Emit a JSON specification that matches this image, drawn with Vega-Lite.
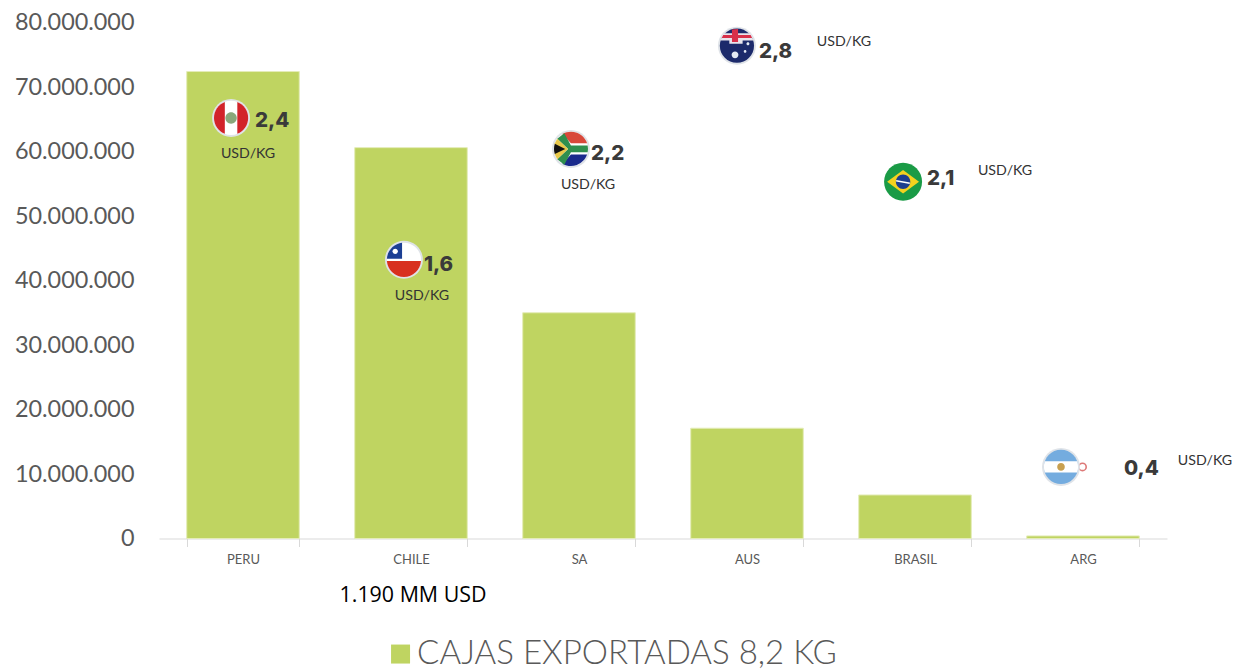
{"$schema":"https://vega.github.io/schema/vega-lite/v6.json","width":1008,"height":516,"autosize":"none","padding":{"left":159,"top":22.5,"right":71,"bottom":132.5},"background":"white","config":{"view":{"stroke":null}},
"datasets":{
"bars":[{"pais":"PERU","cajas":72400000,"serie":"CAJAS EXPORTADAS 8,2 KG"},{"pais":"CHILE","cajas":60600000,"serie":"CAJAS EXPORTADAS 8,2 KG"},{"pais":"SA","cajas":35000000,"serie":"CAJAS EXPORTADAS 8,2 KG"},{"pais":"AUS","cajas":17100000,"serie":"CAJAS EXPORTADAS 8,2 KG"},{"pais":"BRASIL","cajas":6750000,"serie":"CAJAS EXPORTADAS 8,2 KG"},{"pais":"ARG","cajas":400000,"serie":"CAJAS EXPORTADAS 8,2 KG"}],
"precios":[{"pais":"PERU","precio":"2,4","pos":0.571,"nivel":64900000},{"pais":"CHILE","precio":"1,6","pos":1.577,"nivel":42600000},{"pais":"SA","precio":"2,2","pos":2.571,"nivel":59800000},{"pais":"AUS","precio":"2,8","pos":3.571,"nivel":75600000},{"pais":"BRASIL","precio":"2,1","pos":4.571,"nivel":55900000},{"pais":"ARG","precio":"0,4","pos":5.744,"nivel":10900000}],
"unidades":[{"t":"USD/KG","pos":0.53,"nivel":59800000},{"t":"USD/KG","pos":1.565,"nivel":37800000},{"t":"USD/KG","pos":2.554,"nivel":55000000},{"t":"USD/KG","pos":4.077,"nivel":77100000},{"t":"USD/KG","pos":5.036,"nivel":57100000},{"t":"USD/KG","pos":6.226,"nivel":12200000}],
"nota":[{"t":"1.190 MM USD","pos":1.512,"nivel":-8900000}],
"aro":[{"pos":5.497,"nivel":11100000}],
"banderas":[
{"pieza":"aro","pos":0.429,"nivel":65200000},{"pieza":"blanco","pos":0.429,"nivel":65200000},{"pieza":"pe_izq","pos":0.429,"nivel":65200000},{"pieza":"pe_der","pos":0.429,"nivel":65200000},{"pieza":"pe_escudo","pos":0.429,"nivel":65200000},
{"pieza":"aro","pos":1.458,"nivel":43200000},{"pieza":"blanco","pos":1.458,"nivel":43200000},{"pieza":"cl_rojo","pos":1.458,"nivel":43200000},{"pieza":"cl_azul","pos":1.458,"nivel":43200000},{"pieza":"cl_estrella","pos":1.458,"nivel":43200000},
{"pieza":"aro","pos":2.452,"nivel":60400000},{"pieza":"blanco","pos":2.452,"nivel":60400000},{"pieza":"sa_rojo","pos":2.452,"nivel":60400000},{"pieza":"sa_azul","pos":2.452,"nivel":60400000},{"pieza":"sa_verde","pos":2.452,"nivel":60400000},{"pieza":"sa_oro","pos":2.452,"nivel":60400000},{"pieza":"sa_negro","pos":2.452,"nivel":60400000},
{"pieza":"aro","pos":3.44,"nivel":76400000},{"pieza":"au_azul","pos":3.44,"nivel":76400000},{"pieza":"au_blanco","pos":3.44,"nivel":76400000},{"pieza":"au_rojo","pos":3.44,"nivel":76400000},{"pieza":"au_estrellas","pos":3.44,"nivel":76400000},
{"pieza":"br_verde","pos":4.429,"nivel":55300000},{"pieza":"br_amarillo","pos":4.429,"nivel":55300000},{"pieza":"br_azul","pos":4.429,"nivel":55300000},{"pieza":"br_banda","pos":4.429,"nivel":55300000},
{"pieza":"aro","pos":5.369,"nivel":11100000},{"pieza":"ar_azul","pos":5.369,"nivel":11100000},{"pieza":"ar_blanco","pos":5.369,"nivel":11100000},{"pieza":"ar_sol","pos":5.369,"nivel":11100000}
]},
"resolve":{"scale":{"x":"independent"}},
"layer":[
{"data":{"name":"bars"},"mark":{"type":"bar","stroke":"#e4ecb8","strokeWidth":1},
"encoding":{"x":{"field":"pais","type":"nominal","sort":null,"scale":{"paddingInner":0.33,"paddingOuter":0.165},"title":null,"axis":{"labelAngle":0,"labelFont":"Lato","labelFontSize":13,"labelColor":"#595959","labelPadding":7,"tickBand":"extent","tickSize":8,"tickColor":"#d9d9d9","domainColor":"#d9d9d9","grid":false}},
"y":{"field":"cajas","type":"quantitative","scale":{"domain":[0,80000000]},"title":null,"axis":{"values":[0,10000000,20000000,30000000,40000000,50000000,60000000,70000000,80000000],"format":",d","labelExpr":"replace(datum.label, /,/g, '.')","labelFont":"Lato","labelFontSize":23.4,"labelColor":"#595959","labelPadding":25,"domain":false,"ticks":false,"grid":false}},
"color":{"field":"serie","type":"nominal","scale":{"range":["#bfd461"]},"legend":{"title":null,"orient":"none","legendX":225,"legendY":615,"symbolType":"square","symbolSize":361,"symbolStrokeWidth":0,"symbolOpacity":1,"labelFont":"Lato","labelFontSize":33.1,"labelFontWeight":300,"labelColor":"#595959","labelLimit":500,"labelOffset":0}}}},
{"data":{"name":"aro"},"mark":{"type":"point","filled":false,"stroke":"#d0413f","strokeWidth":1.6,"size":55},"encoding":{"x":{"field":"pos","type":"quantitative","scale":{"domain":[0,6]},"axis":null},"y":{"field":"nivel","type":"quantitative","title":null}}},
{"data":{"name":"banderas"},"mark":{"type":"point","filled":true,"opacity":1,"size":1444},
"encoding":{"x":{"field":"pos","type":"quantitative","scale":{"domain":[0,6]},"axis":null},"y":{"field":"nivel","type":"quantitative","title":null},
"shape":{"field":"pieza","type":"nominal","legend":null,"scale":{
"domain":["aro","blanco","pe_izq","pe_der","pe_escudo","cl_rojo","cl_azul","cl_estrella","sa_rojo","sa_azul","sa_verde","sa_oro","sa_negro","au_azul","au_blanco","au_rojo","au_estrellas","br_verde","br_amarillo","br_azul","br_banda","ar_azul","ar_blanco","ar_sol"],
"range":[
"M-1,0 A1,1 0 1 1 1,0 A1,1 0 1 1 -1,0 Z",
"M-.9,0 A.9,.9 0 1 1 .9,0 A.9,.9 0 1 1 -.9,0 Z",
"M-.33,-.837 A.9,.9 0 0 0 -.33,.837 Z",
"M.33,-.837 A.9,.9 0 0 1 .33,.837 Z",
"M-.3,0 A.3,.3 0 1 1 .3,0 A.3,.3 0 1 1 -.3,0 Z",
"M-.898,.06 A.9,.9 0 0 0 .898,.06 Z",
"M-.1,-.06 L-.898,-.06 A.9,.9 0 0 1 -.1,-.894 Z",
"M-.6,-.45 A.14,.14 0 1 1 -.32,-.45 A.14,.14 0 1 1 -.6,-.45 Z",
"M-.45,-.78 A.9,.9 0 0 1 .85,-.3 L0,-.3 Z",
"M-.45,.78 A.9,.9 0 0 0 .85,.3 L0,.3 Z",
"M-.72,-.54 L-.35,-.83 L0,-.18 L.88,-.18 A.9,.9 0 0 1 .88,.18 L0,.18 L-.35,.83 L-.72,.54 L-.15,0 Z",
"M-.85,-.3 L-.72,-.54 L-.15,0 L-.72,.54 L-.85,.3 Z",
"M-.85,-.27 L-.3,0 L-.85,.27 A.9,.9 0 0 1 -.85,-.27 Z",
"M-.9,0 A.9,.9 0 1 1 .9,0 A.9,.9 0 1 1 -.9,0 Z",
"M-.74,-.65 L.74,-.65 L.86,-.28 L.3,-.28 L.3,-.1 L-.4,-.1 L-.4,-.28 L-.86,-.28 Z",
"M-.72,-.56 L.72,-.56 L.8,-.4 L.06,-.4 L.06,-.2 L-.26,-.2 L-.26,-.4 L-.8,-.4 Z M-.26,-.86 L.06,-.88 L.06,-.56 L-.26,-.56 Z",
"M-.28,.48 A.18,.18 0 1 1 .08,.48 A.18,.18 0 1 1 -.28,.48 Z M.5,-.1 A.08,.08 0 1 1 .66,-.1 A.08,.08 0 1 1 .5,-.1 Z M.36,.3 A.07,.07 0 1 1 .5,.3 A.07,.07 0 1 1 .36,.3 Z",
"M-1,0 A1,1 0 1 1 1,0 A1,1 0 1 1 -1,0 Z",
"M-.84,0 L0,-.62 L.84,0 L0,.62 Z",
"M-.38,0 A.38,.38 0 1 1 .38,0 A.38,.38 0 1 1 -.38,0 Z",
"M-.36,-.1 L.36,.04 L.35,.12 L-.37,-.02 Z",
"M-.9,0 A.9,.9 0 1 1 .9,0 A.9,.9 0 1 1 -.9,0 Z",
"M-.85,-.3 L.85,-.3 A.9,.9 0 0 1 .85,.3 L-.85,.3 A.9,.9 0 0 1 -.85,-.3 Z",
"M-.2,0 A.2,.2 0 1 1 .2,0 A.2,.2 0 1 1 -.2,0 Z"]}},
"fill":{"field":"pieza","type":"nominal","legend":null,"scale":{
"domain":["aro","blanco","pe_izq","pe_der","pe_escudo","cl_rojo","cl_azul","cl_estrella","sa_rojo","sa_azul","sa_verde","sa_oro","sa_negro","au_azul","au_blanco","au_rojo","au_estrellas","br_verde","br_amarillo","br_azul","br_banda","ar_azul","ar_blanco","ar_sol"],
"range":["#dfe3e8","#ffffff","#d2232a","#d2232a","#8aa77b","#d8301f","#1c3f94","#ffffff","#d8483a","#1a2a8c","#2f8f4e","#e8c84a","#111111","#1c2a6b","#e8e4ec","#d8304a","#e4eaf4","#1a9b46","#f4d21f","#1d3f8f","#ffffff","#74acdf","#ffffff","#c8a050"]}}}},
{"data":{"name":"precios"},"mark":{"type":"text","align":"left","baseline":"middle","font":"Inter","fontWeight":800,"fontSize":20.5,"dy":1,"color":"#3a3a3a"},"encoding":{"x":{"field":"pos","type":"quantitative","scale":{"domain":[0,6]},"axis":null},"y":{"field":"nivel","type":"quantitative","title":null},"text":{"field":"precio"}}},
{"data":{"name":"unidades"},"mark":{"type":"text","align":"center","baseline":"middle","font":"Lato","fontSize":14.2,"dy":1,"color":"#333333"},"encoding":{"x":{"field":"pos","type":"quantitative","scale":{"domain":[0,6]},"axis":null},"y":{"field":"nivel","type":"quantitative","title":null},"text":{"field":"t"}}},
{"data":{"name":"nota"},"mark":{"type":"text","align":"center","baseline":"middle","font":"Open Sans","fontSize":21.4,"color":"#000000"},"encoding":{"x":{"field":"pos","type":"quantitative","scale":{"domain":[0,6]},"axis":null},"y":{"field":"nivel","type":"quantitative","title":null},"text":{"field":"t"}}}
]}
